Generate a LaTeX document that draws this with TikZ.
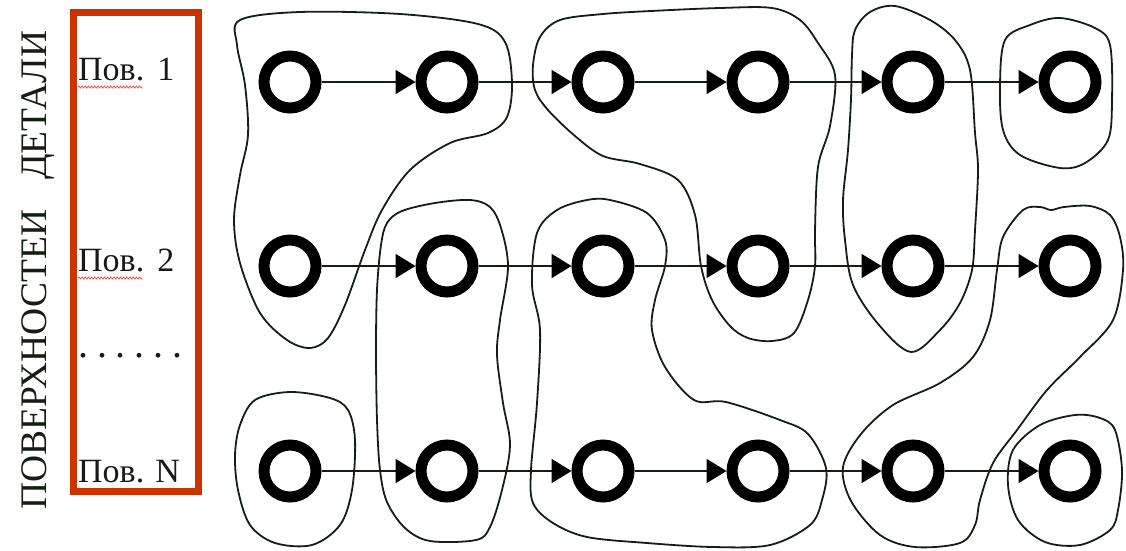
\documentclass[tikz,border=0pt]{standalone}
\usepackage{fontspec}
\setmainfont{Liberation Serif}
\usetikzlibrary{arrows.meta,decorations.pathmorphing}
\definecolor{ink}{RGB}{20,30,20}
\definecolor{boxred}{RGB}{204,51,0}
\definecolor{squig}{RGB}{232,70,70}
\begin{document}
\begin{tikzpicture}[x=1pt,y=-1pt,
  ring/.style={circle,draw=black,line width=11pt,minimum size=52pt,inner sep=0pt},
  flow/.style={draw=ink,line width=1.8pt,-{Triangle[length=20pt,width=24pt,fill=black,color=black]}},
  group/.style={draw=ink,line width=1.8pt},
  lab/.style={anchor=base west,inner sep=0pt,font=\fontsize{34}{38}\selectfont,text=black!90},
  squiggle/.style={draw=squig,line width=0.7pt,decorate,decoration={zigzag,segment length=3.2pt,amplitude=1.1pt}}
]
\useasboundingbox (0,0) rectangle (1126,550);

% left title
\node[rotate=90,anchor=base,inner sep=0pt,font=\fontsize{37.5}{40}\selectfont,text=ink] (title) at (46,270) {ПОВЕРХНОСТЕИ\hspace{30pt}ДЕТАЛИ};

% red box
\draw[boxred,line width=7pt] (73.5,12) rectangle (198,491);

\node[lab] (p1) at (78,80) {Пов.\hspace{13pt}1};
\node[lab] (p2) at (78,271) {Пов.\hspace{13pt}2};
\node[lab,font=\fontsize{40}{44}\selectfont] (pd) at (78,357) {.\hspace{8.8pt}.\hspace{8.8pt}.\hspace{8.8pt}.\hspace{8.8pt}.\hspace{8.8pt}.};
\node[lab] (pn) at (78,482) {Пов.\hspace{11pt}N};
\draw[squiggle] (78,87) -- (142,87);
\draw[squiggle] (78,278) -- (142,278);

% circles
\foreach \r/\y in {1/82,2/266,3/471}{
  \foreach \c/\x in {1/290,2/447,3/603,4/758,5/913,6/1070}{
    \node[ring] (c\r\c) at (\x,\y) {};
  }
}
% arrows
\foreach \r in {1,2,3}{
  \foreach \a/\b in {1/2,2/3,3/4,4/5,5/6}{
    \draw[flow] (c\r\a) -- (c\r\b);
  }
}

% group outlines
\draw[group] plot[smooth cycle,tension=0.55] coordinates {(240,20) (300,12) (400,14) (478,24) (505,42) (512,83) (507,117) (488,133) (450,143) (410,170) (382,210) (365,250) (345,305) (328,338) (310,348) (287,340) (260,313) (240,263) (234,220) (240,175) (248,135) (245,85) (237,45)};
\draw[group] plot[smooth cycle,tension=0.55] coordinates {(387,223) (402,211) (435,203) (470,200) (490,207) (501,228) (508,267) (500,320) (497,355) (503,403) (510,445) (502,490) (490,527) (476,540) (430,541) (405,528) (387,502) (380,470) (377,420) (376,350) (377,290) (381,245)};
\draw[group] plot[smooth cycle,tension=0.55] coordinates {(560,20) (603,14) (651,11) (720,8) (772,8) (800,20) (818,43) (835,75) (830,126) (818,167) (815,230) (815,266) (808,300) (794,333) (772,341) (748,338) (730,326) (712,300) (701,266) (695,215) (678,180) (640,164) (603,156) (575,136) (548,110) (535,90) (533,65) (540,37)};
\draw[group] plot[smooth cycle,tension=0.55] coordinates {(855,30) (870,12) (895,6) (930,20) (955,40) (970,70) (975,133) (978,170) (975,230) (972,270) (960,303) (940,330) (911,352) (879,325) (853,285) (845,240) (843,200) (848,150) (851,99) (852,55)};
\draw[group] plot[smooth cycle,tension=0.55] coordinates {(1005,40) (1030,25) (1060,18) (1095,28) (1110,45) (1112,100) (1108,140) (1085,163) (1060,168) (1020,155) (1003,130) (1000,85)};
\draw[group] plot[smooth cycle,tension=0.55] coordinates {(537,233) (557,210) (587,200) (610,200) (647,213) (665,240) (665,266) (655,300) (652,330) (665,367) (694,400) (726,402) (780,420) (808,434) (826,468) (822,500) (810,525) (770,545) (713,547) (647,543) (587,537) (553,523) (533,503) (531,470) (537,403) (540,330) (532,285)};
\draw[group] plot[smooth cycle,tension=0.55] coordinates {(1003,237) (1023,210) (1040,207) (1051,210) (1064,207) (1090,206) (1110,215) (1120,237) (1123,270) (1113,320) (1080,357) (1047,390) (1017,430) (993,463) (980,500) (975,525) (960,543) (915,547) (880,535) (851,501) (843,467) (861,434) (893,405) (940,383) (973,357) (990,320) (997,270)};
\draw[group] plot[smooth cycle,tension=0.55] coordinates {(1013,450) (1040,425) (1075,415) (1100,418) (1115,430) (1122,470) (1118,510) (1110,530) (1080,545) (1045,542) (1018,520) (1008,485)};
\draw[group] plot[smooth cycle,tension=0.55] coordinates {(240,425) (255,400) (290,392) (330,398) (348,410) (355,440) (352,490) (340,525) (312,545) (275,543) (250,525) (238,490) (235,455)};
\end{tikzpicture}
\end{document}
